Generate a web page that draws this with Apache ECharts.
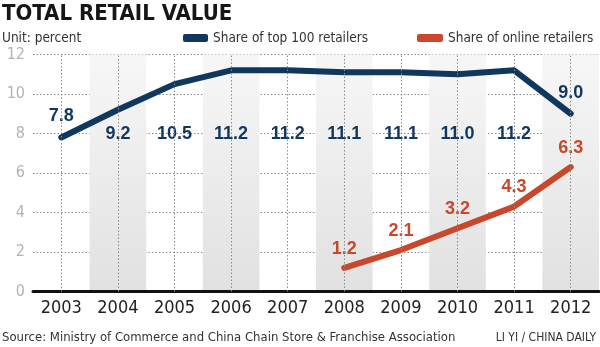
<!DOCTYPE html>
<html>
<head>
<meta charset="utf-8">
<script src="https://cdn.jsdelivr.net/npm/echarts@6/dist/echarts.min.js"></script>
<style>
html,body{margin:0;padding:0;background:#fff;}
#c{width:600px;height:347px;}
</style>
</head>
<body>
<div id="c"></div>
<script>
const years = ['2003','2004','2005','2006','2007','2008','2009','2010','2011','2012'];
const top100Share = [7.8, 9.2, 10.5, 11.2, 11.2, 11.1, 11.1, 11.0, 11.2, 9.0];
const onlineShare = [null, null, null, null, null, 1.2, 2.1, 3.2, 4.3, 6.3];
const yTicks = [0, 2, 4, 6, 8, 10, 12];
const labelRowValue = 8;

const NARROW = "'Liberation Sans Narrow','DejaVu Sans Condensed','Arial Narrow',sans-serif";
const BOLD = "'Liberation Sans','Arial',sans-serif";
const NAVY = '#10385f';
const ORANGE = '#c9472b';

const gridTop = 54.5, gridBottom = 55.5, H = 347;
const yMax = yTicks[yTicks.length - 1];
const ppu = (H - gridTop - gridBottom) / yMax;
const fmt = p => Number(p.value).toFixed(1);

const blueData = top100Share.map((v, i) => {
  const edge = (i === 0 || i === top100Share.length - 1);
  return {
    value: v,
    label: edge
      ? { position: 'top', distance: 12 }
      : { position: 'bottom', distance: (v - labelRowValue) * ppu - 9 }
  };
});

const chart = echarts.init(document.getElementById('c'), null, { renderer: 'canvas' });
const bandGrad = new echarts.graphic.LinearGradient(0, 0, 0, 1, [
  { offset: 0, color: '#f7f7f7' },
  { offset: 1, color: '#e1e1e1' }
]);

chart.setOption({
  animation: false,
  backgroundColor: '#fff',
  title: [
    { text: 'TOTAL RETAIL VALUE', left: 2, top: 3, padding: 0,
      textStyle: { fontFamily: NARROW, fontWeight: 'bold', fontSize: 22, color: '#161616' } },
    { text: 'Unit: percent', left: 2, top: 31, padding: 0,
      textStyle: { fontFamily: NARROW, fontWeight: 'normal', fontSize: 13.5, color: '#333' } },
    { text: 'Source: Ministry of Commerce and China Chain Store & Franchise Association', left: 2, top: 331, padding: 0,
      textStyle: { fontFamily: NARROW, fontWeight: 'normal', fontSize: 13, color: '#333' } },
    { text: 'LI YI / CHINA DAILY', right: 4, top: 332, padding: 0,
      textStyle: { fontFamily: NARROW, fontWeight: 'normal', fontSize: 12, color: '#333' } }
  ],
  legend: [
    { data: ['Share of top 100 retailers'], left: 183, top: 31, padding: 0, itemWidth: 25, itemHeight: 8,
      icon: 'roundRect', textStyle: { fontFamily: NARROW, fontSize: 13.5, color: '#333' } },
    { data: ['Share of online retailers'], left: 417, top: 31, padding: 0, itemWidth: 26, itemHeight: 8,
      icon: 'roundRect', textStyle: { fontFamily: NARROW, fontSize: 13.5, color: '#333' } }
  ],
  grid: { left: 33, right: 1, top: gridTop, bottom: gridBottom, containLabel: false },
  xAxis: {
    type: 'category', data: years, boundaryGap: true,
    axisLine: { show: true, lineStyle: { color: '#111', width: 3 } },
    axisTick: { show: false },
    axisLabel: { interval: 0, fontFamily: NARROW, fontSize: 18, color: '#222', margin: 8 },
    splitLine: { show: false },
    splitArea: { show: true, interval: 0, areaStyle: { color: ['rgba(255,255,255,0)', bandGrad] } }
  },
  yAxis: {
    type: 'value', min: 0, max: yMax, interval: 2,
    axisLine: { show: false }, axisTick: { show: false },
    axisLabel: { fontFamily: NARROW, fontSize: 16, color: '#b3b3b3', margin: 8 },
    splitLine: { show: true, lineStyle: { color: '#8a8a8a', width: 1, type: [1.5, 2] } }
  },
  series: [
    {
      name: 'gridlines', type: 'line', data: [], z: 1, silent: true,
      markLine: {
        silent: true, symbol: 'none', label: { show: false },
        lineStyle: { color: '#8a8a8a', width: 1, type: [1.5, 2] },
        data: years.map(y => ({ xAxis: y }))
      }
    },
    {
      name: 'Share of top 100 retailers', type: 'line', data: blueData, z: 3,
      color: NAVY, symbol: 'circle', symbolSize: 0.1, showSymbol: true,
      lineStyle: { width: 6, color: NAVY, cap: 'round', join: 'round' },
      label: { show: true, formatter: fmt, fontFamily: BOLD, fontWeight: 'bold', fontSize: 18, color: NAVY },
      labelLayout: { hideOverlap: false }
    },
    {
      name: 'Share of online retailers', type: 'line', data: onlineShare, z: 3,
      color: ORANGE, symbol: 'circle', symbolSize: 0.1, showSymbol: true,
      lineStyle: { width: 6, color: ORANGE, cap: 'round', join: 'round' },
      label: { show: true, formatter: fmt, position: 'top', distance: 10, fontFamily: BOLD, fontWeight: 'bold', fontSize: 18, color: ORANGE }
    }
  ]
});
</script>
</body>
</html>
